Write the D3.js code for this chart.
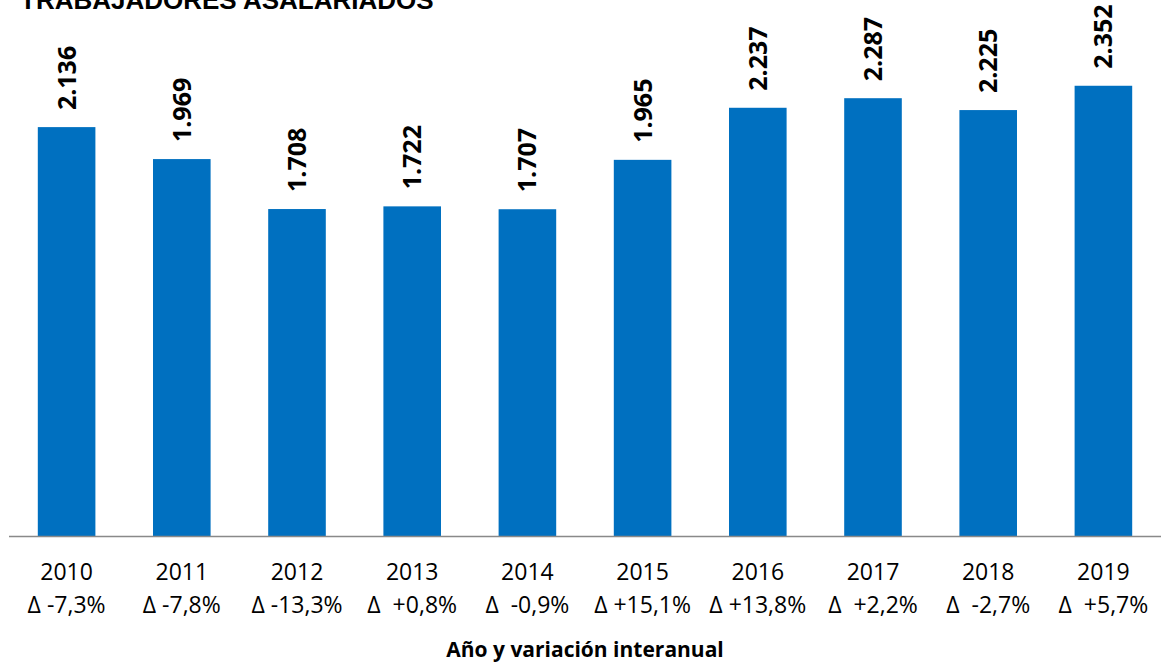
<!DOCTYPE html>
<html>
<head>
<meta charset="utf-8">
<script src="https://cdn.jsdelivr.net/npm/d3@7"></script>
<style>
  body { margin: 0; background: #fff; }
  svg { display: block; }
  text { font-family: "Open Sans", "Noto Sans", sans-serif; white-space: pre; }
</style>
</head>
<body>
<svg id="chart" width="1161" height="662"></svg>
<script>
// data
const years = ["2010", "2011", "2012", "2013", "2014", "2015", "2016", "2017", "2018", "2019"];
const workers = [2136, 1969, 1708, 1722, 1707, 1965, 2237, 2287, 2225, 2352];
const variations = ["Δ -7,3%", "Δ -7,8%", "Δ -13,3%", "Δ  +0,8%", "Δ  -0,9%", "Δ +15,1%", "Δ +13,8%", "Δ  +2,2%", "Δ  -2,7%", "Δ  +5,7%"];

const svg = d3.select("#chart");
const left = 9, right = 1161, baseY = 536;

const x = d3.scaleBand().domain(years).range([left, right]).paddingInner(0.5).paddingOuter(0.25);
const y = d3.scaleLinear().domain([0, 2800]).range([baseY, 0]);

// title (cut off at the top, as in the source)
svg.append("text")
  .attr("x", 20).attr("y", 9)
  .style("font-family", "'Liberation Sans', Arial, sans-serif")
  .attr("font-size", 26).attr("font-weight", "bold")
  .attr("fill", "#000")
  .text("TRABAJADORES ASALARIADOS");

const data = years.map((yr, i) => ({ yr, v: workers[i], d: variations[i] }));

svg.append("g").selectAll("rect").data(data).join("rect")
  .attr("x", d => x(d.yr))
  .attr("width", x.bandwidth())
  .attr("y", d => y(d.v))
  .attr("height", d => baseY - y(d.v))
  .attr("fill", "#0070C0");

// value labels, rotated
svg.append("g").selectAll("text").data(data).join("text")
  .attr("transform", d => `translate(${x(d.yr) + x.bandwidth() / 2 + 9},${y(d.v) - 17}) rotate(-90)`)
  .attr("font-size", 25).attr("font-weight", "bold")
  .attr("fill", "#000")
  .text(d => d3.format(",")(d.v).replace(",", "."));

// axis line
svg.append("line")
  .attr("x1", left).attr("x2", right)
  .attr("y1", baseY + 0.5).attr("y2", baseY + 0.5)
  .attr("stroke", "#898989").attr("stroke-width", 1.5);

// category labels
const cat = svg.append("g").selectAll("g").data(data).join("g")
  .attr("transform", d => `translate(${x(d.yr) + x.bandwidth() / 2},0)`);
cat.append("text")
  .attr("y", 580).attr("text-anchor", "middle")
  .attr("font-size", 23).attr("fill", "#000")
  .text(d => d.yr);
cat.append("text")
  .attr("y", 613).attr("text-anchor", "middle")
  .attr("font-size", 23).attr("fill", "#000")
  .text(d => d.d);

// axis title
svg.append("text")
  .attr("x", 585).attr("y", 657).attr("text-anchor", "middle")
  .attr("font-size", 21).attr("font-weight", "bold").attr("fill", "#000")
  .text("Año y variación interanual");
</script>
</body>
</html>
